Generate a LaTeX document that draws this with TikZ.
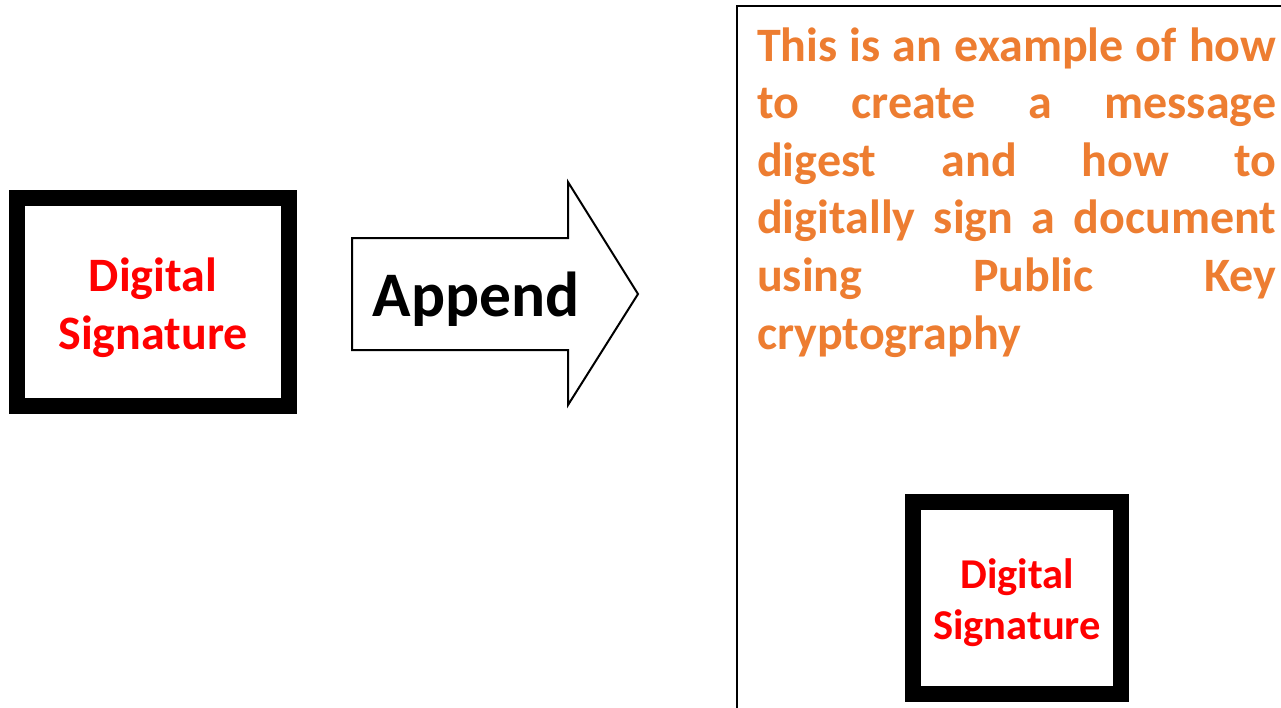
\documentclass[tikz,border=0pt]{standalone}
\usepackage{fontspec}
\setmainfont{Carlito}
\definecolor{sigred}{HTML}{FF0000}
\definecolor{docorange}{HTML}{ED7D31}

\begin{document}
\begin{tikzpicture}[x=1pt,y=-1pt]
    \tikzstyle{sigbox}=[rectangle,draw=black,line width=16pt,fill=white,inner sep=0pt]
    \tikzstyle{sigtext}=[text=sigred,align=center,inner sep=0pt]
    \useasboundingbox (0,0) rectangle (1281,707);

    % signature on its own
    \node[sigbox,minimum width=272pt,minimum height=207.5pt] (sig-a) at (153,301.75) {};
    \node[sigtext,font=\bfseries\fontsize{48}{58}\selectfont] (label-a) at (153,307.5) {Digital\\Signature};

    % block arrow
    \draw[line width=2pt] (352,238) -- (568,238) -- (568,182) -- (638,294)
        -- (568,405) -- (568,350) -- (352,350) -- cycle;
    \node[font=\bfseries\fontsize{63.5}{75}\selectfont,anchor=base,inner sep=0pt] (append) at (476,316) {Append};

    % signed document
    \draw[line width=2pt] (737,720) -- (737,6) -- (1290,6);
    \node[anchor=base west,text width=519pt,align=justify,text=docorange,inner sep=0pt,
        font=\bfseries\fontsize{48}{57.6}\selectfont] (msg) at (757,61)
        {This is an example of how\linebreak to create a message\linebreak digest and how to\linebreak
         digitally sign a document\linebreak using Public Key\linebreak cryptography};

    \node[sigbox,minimum width=208pt,minimum height=192pt] (sig-b) at (1017,598) {};
    \node[sigtext,font=\bfseries\fontsize{42.5}{51}\selectfont] (label-b) at (1017,603) {Digital\\Signature};
\end{tikzpicture}
\end{document}
